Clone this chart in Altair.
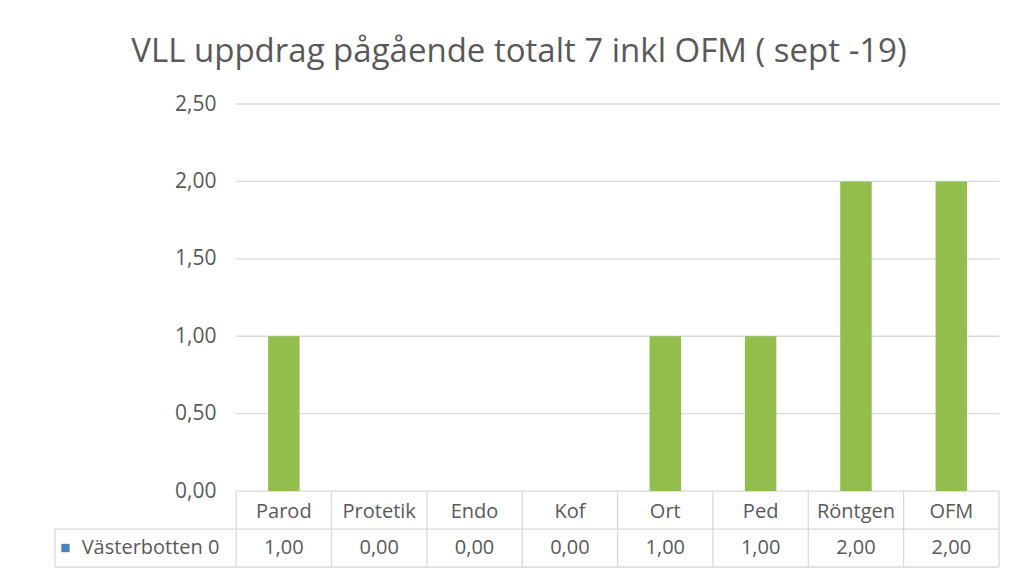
import altair as alt
import pandas as pd

# ---- data ----
categories = ["Parod", "Protetik", "Endo", "Kof", "Ort", "Ped", "Röntgen", "OFM"]
values = [1.0, 0.0, 0.0, 0.0, 1.0, 1.0, 2.0, 2.0]
series_name = "Västerbotten 0"
y_ticks = [0.0, 0.5, 1.0, 1.5, 2.0, 2.5]
title_text = "VLL uppdrag pågående totalt 7 inkl OFM ( sept -19)"

# ---- tables built from the lists ----
df = pd.DataFrame({"cat": categories, "val": values, "idx": list(range(len(categories)))})
df["label"] = [f"{v:.2f}".replace(".", ",") for v in values]
grid_df = pd.DataFrame({"t": y_ticks})

n = len(categories)
ROW = 0.245          # table row height in y-units
LABEL_LEFT = -1.9    # left edge of the legend column in x-units

FONT = "Open Sans"
TXT = "#595959"
LINE = "#d9d9d9"
GREEN = "#93bd4c"
BLUE = "#4f81bd"

xs = alt.Scale(domain=[LABEL_LEFT, n], nice=False, zero=False)
ys = alt.Scale(domain=[-2 * ROW, 2.5], nice=False, zero=False)

base = alt.Chart(df)

# gridlines (y-axis carries tick labels only)
grid = alt.Chart(grid_df).mark_rule(color=LINE, strokeWidth=1.3).encode(
    y=alt.Y("t:Q", scale=ys, axis=alt.Axis(
        values=y_ticks, title=None, domain=False, ticks=False, grid=False,
        offset=-182, labelPadding=21, labelFont=FONT, labelFontSize=21,
        labelColor=TXT,
        labelExpr="replace(format(datum.value, '.2f'), '.', ',')")),
    x=alt.datum(0, scale=xs, axis=None),
    x2=alt.datum(n),
)

bars = base.transform_calculate(
    x0="datum.idx + 0.335", x1="datum.idx + 0.665"
).mark_bar(color=GREEN).encode(
    x=alt.X("x0:Q", scale=xs, axis=None),
    x2="x1:Q",
    y=alt.Y("val:Q", scale=ys),
    y2=alt.datum(0),
)

# table lines
hlines_df = pd.DataFrame({"y": [-ROW, -2 * ROW], "xa": [LABEL_LEFT, LABEL_LEFT], "xb": [n, n]})
hlines = alt.Chart(hlines_df).mark_rule(color=LINE, strokeWidth=1.3).encode(
    x=alt.X("xa:Q", scale=xs), x2="xb:Q", y=alt.Y("y:Q", scale=ys))

vlines_df = pd.DataFrame({"x": list(range(n + 1)) + [LABEL_LEFT],
                          "ya": [0.0] * (n + 1) + [-ROW],
                          "yb": [-2 * ROW] * (n + 2)})
vlines = alt.Chart(vlines_df).mark_rule(color=LINE, strokeWidth=1.3).encode(
    x=alt.X("x:Q", scale=xs), y=alt.Y("ya:Q", scale=ys), y2="yb:Q")

cat_text = base.transform_calculate(
    xc="datum.idx + 0.5"
).mark_text(font=FONT, fontSize=20, color=TXT, baseline="middle", dy=2).encode(
    x=alt.X("xc:Q", scale=xs), y=alt.datum(-ROW / 2, scale=ys), text="cat:N")

val_text = base.transform_calculate(
    xc="datum.idx + 0.5"
).mark_text(font=FONT, fontSize=20, color=TXT, baseline="middle").encode(
    x=alt.X("xc:Q", scale=xs), y=alt.datum(-1.5 * ROW, scale=ys), text="label:N")

legend_df = pd.DataFrame({"name": [series_name]})
leg_sq = alt.Chart(legend_df).mark_square(color=BLUE, size=70, opacity=1).encode(
    x=alt.datum(-1.79, scale=xs), y=alt.datum(-1.5 * ROW, scale=ys))
leg_txt = alt.Chart(legend_df).mark_text(
    font=FONT, fontSize=20, color=TXT, align="left", baseline="middle").encode(
    x=alt.datum(-1.62, scale=xs), y=alt.datum(-1.5 * ROW, scale=ys), text="name:N")

chart = alt.layer(grid, bars, hlines, vlines, cat_text, val_text, leg_sq, leg_txt).properties(
    width=944, height=463,
    title=alt.Title(title_text, font=FONT, fontSize=33, fontWeight="normal",
                    color=TXT, anchor="middle", dx=-8, offset=24),
    autosize=alt.AutoSizeParams(type="none"),
    padding={"left": 47, "top": 96, "right": 23, "bottom": 1},
    background="white",
).configure_view(stroke=None)

chart.save("out.html", embed_options={"renderer": "svg", "actions": False})
